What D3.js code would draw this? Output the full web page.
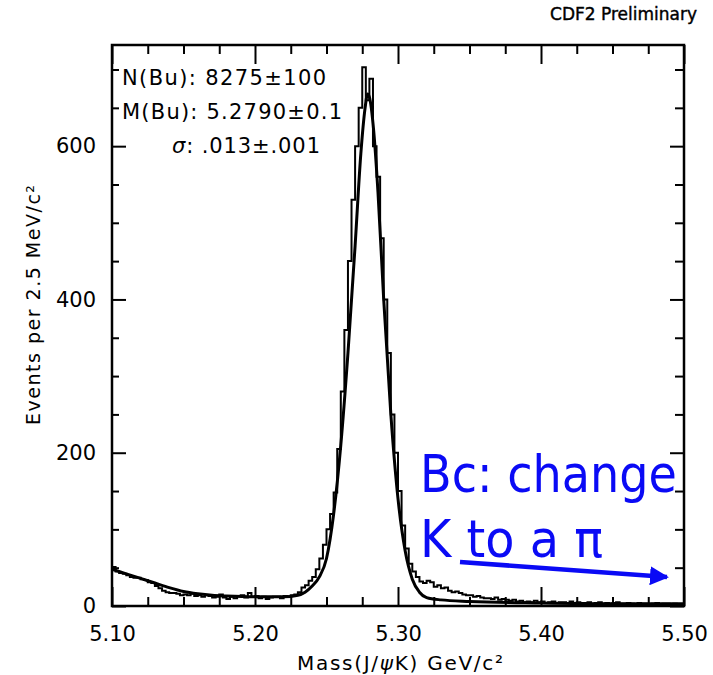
<!DOCTYPE html>
<html>
<head>
<meta charset="utf-8">
<script src="https://cdn.jsdelivr.net/npm/d3@7"></script>
<style>
  body { margin: 0; background: #fff; }
  svg { display: block; }
  text { font-family: "DejaVu Sans", "Liberation Sans", sans-serif; fill: #000; }
</style>
</head>
<body>
<svg id="chart" width="713" height="675"></svg>
<script>
// histogram: events per 2.5 MeV bin, starting at 5.10 GeV
var massStart = 5.10;
var binWidth = 0.0025;
var counts = [
  51,45,43,42,40,38,37,37,35,34,31,30,26,23,20,18,17,17,16,14,
  15,14,16,13,14,12,14,13,11,12,15,11,9,12,10,13,14,11,17,12,13,10,12,9,11,12,12,10,13,12,
  14,15,18,24,27,33,38,48,62,80,100,120,148,205,280,360,450,530,600,650,
  703,660,688,600,560,480,400,330,250,200,150,105,75,55,45,38,
  32,30,33,31,25,27,23,24,20,18,19,17,15,14,14,12,13,11,10,10,9,11,8,9,8,7,8,6,7,5,
  6,5,7,5,6,4,5,6,4,5,5,4,6,3,5,4,4,5,3,4,5,3,4,3,4,5,3,3,4,3,2,4,3,3,2,3,4,2,3,3,2,3,2,1
];

// fit curve
var fitMass = [5.100,5.110,5.120,5.130,5.140,5.150,5.160,5.170,5.180,5.200,5.220,5.230,5.235,5.240,5.245,5.250,5.255,5.260,5.265,5.270,5.274,5.277,5.2787,5.280,5.283,5.286,5.290,5.295,5.300,5.305,5.310,5.315,5.320,5.330,5.350,5.400,5.450,5.500];
var fitValue = [48,42,36,30,24,19,16,14,13,12,12,14,18,26,38,62,120,210,330,470,590,650,668,664,620,540,400,250,140,72,35,18,11,8,6,4,3,3];

var xTicks = [5.10, 5.20, 5.30, 5.40, 5.50];
var yTicks = [0, 200, 400, 600];
var fitLabels = ["N(Bu): 8275\u00b1100", "M(Bu): 5.2790\u00b10.1"];
var sigmaLabel = ": .013\u00b1.001";

var svg = d3.select("#chart");
var pL = 112, pR = 684, pT = 45, pB = 606;

var x = d3.scaleLinear().domain([5.10, 5.50]).range([pL, pR]);
var y = d3.scaleLinear().domain([0, 732]).range([pB, pT]);

// minor ticks
var xMinor = d3.range(5.10, 5.5001, 0.025).filter(function(v){ return Math.abs(v*10 - Math.round(v*10)) > 1e-6; });
var yMinor = d3.range(0, 732, 50).filter(function(v){ return v % 200 != 0; });

function styleAxis(g){
  g.select(".domain").remove();
  g.selectAll("line").attr("stroke", "#000").attr("stroke-width", 2);
  g.selectAll("text").attr("font-family", "DejaVu Sans, sans-serif").attr("font-size", 21).attr("fill", "#000");
}

// bottom
svg.append("g").attr("transform", "translate(0," + pB + ")")
  .call(d3.axisBottom(x).tickValues(xTicks).tickSize(-19).tickPadding(20).tickFormat(d3.format(".2f")))
  .call(styleAxis);
svg.append("g").attr("transform", "translate(0," + pB + ")")
  .call(d3.axisBottom(x).tickValues(xMinor).tickSize(-9).tickFormat(""))
  .call(styleAxis);
// top
svg.append("g").attr("transform", "translate(0," + pT + ")")
  .call(d3.axisTop(x).tickValues(xTicks).tickSize(-19).tickFormat(""))
  .call(styleAxis);
svg.append("g").attr("transform", "translate(0," + pT + ")")
  .call(d3.axisTop(x).tickValues(xMinor).tickSize(-9).tickFormat(""))
  .call(styleAxis);
// left
svg.append("g").attr("transform", "translate(" + pL + ",0)")
  .call(d3.axisLeft(y).tickValues(yTicks).tickSize(-14).tickPadding(16))
  .call(styleAxis);
svg.append("g").attr("transform", "translate(" + pL + ",0)")
  .call(d3.axisLeft(y).tickValues(yMinor).tickSize(-7).tickFormat(""))
  .call(styleAxis);
// right
svg.append("g").attr("transform", "translate(" + pR + ",0)")
  .call(d3.axisRight(y).tickValues(yTicks).tickSize(-14).tickFormat(""))
  .call(styleAxis);
svg.append("g").attr("transform", "translate(" + pR + ",0)")
  .call(d3.axisRight(y).tickValues(yMinor).tickSize(-9).tickFormat(""))
  .call(styleAxis);

// histogram as a step line
var histPts = counts.map(function(c, i){ return [massStart + i*binWidth, c]; });
histPts.push([massStart + counts.length*binWidth, counts[counts.length-1]]);
var stepLine = d3.line()
  .x(function(d){ return x(d[0]); })
  .y(function(d){ return y(d[1]); })
  .curve(d3.curveStepAfter);
svg.append("path").datum(histPts)
  .attr("d", stepLine)
  .attr("fill", "none").attr("stroke", "#000").attr("stroke-width", 2);

// fit
var fitLine = d3.line()
  .x(function(d, i){ return x(fitMass[i]); })
  .y(function(d){ return y(d); })
  .curve(d3.curveMonotoneX);
svg.append("path").datum(fitValue)
  .attr("d", fitLine)
  .attr("fill", "none").attr("stroke", "#000").attr("stroke-width", 3);

// frame
svg.append("rect").attr("x", pL).attr("y", pT)
  .attr("width", pR - pL).attr("height", pB - pT)
  .attr("fill", "none").attr("stroke", "#000").attr("stroke-width", 2.5);

// fit results
svg.append("text").attr("x", 122).attr("y", 85).attr("font-size", 21)
  .attr("textLength", 204).attr("lengthAdjust", "spacing").text(fitLabels[0]);
svg.append("text").attr("x", 122).attr("y", 119).attr("font-size", 21)
  .attr("textLength", 220).attr("lengthAdjust", "spacing").text(fitLabels[1]);
var sig = svg.append("text").attr("x", 172).attr("y", 153).attr("font-size", 21)
  .attr("textLength", 148).attr("lengthAdjust", "spacing");
sig.append("tspan").attr("font-style", "italic").text("\u03c3");
sig.append("tspan").text(sigmaLabel);

// axis titles
svg.append("text")
  .attr("transform", "translate(40,305) rotate(-90)")
  .attr("text-anchor", "middle").attr("font-size", 19)
  .attr("textLength", 240).attr("lengthAdjust", "spacing")
  .text("Events per 2.5 MeV/c\u00b2");
var xt = svg.append("text").attr("x", 400).attr("y", 670)
  .attr("text-anchor", "middle").attr("font-size", 20)
  .attr("textLength", 206).attr("lengthAdjust", "spacing");
xt.append("tspan").text("Mass(J/");
xt.append("tspan").attr("font-style", "italic").text("\u03c8");
xt.append("tspan").text("K) GeV/c\u00b2");

svg.append("text").attr("x", 697).attr("y", 20)
  .attr("text-anchor", "end").attr("font-size", 17)
  .attr("font-family", "Liberation Sans Narrow, DejaVu Sans Condensed, sans-serif")
  .attr("stroke", "#000").attr("stroke-width", 0.4)
  .text("CDF2 Preliminary");

// blue annotation
var blue = "#0a0af5";
svg.append("text").attr("x", 420).attr("y", 492)
  .attr("font-family", "Comic Sans MS, DejaVu Sans, sans-serif")
  .attr("font-size", 52)
  .attr("textLength", 257).attr("lengthAdjust", "spacingAndGlyphs")
  .style("fill", blue)
  .text("Bc: change");
svg.append("text").attr("x", 420).attr("y", 557)
  .attr("font-family", "Comic Sans MS, DejaVu Sans, sans-serif")
  .attr("font-size", 52)
  .attr("textLength", 183).attr("lengthAdjust", "spacingAndGlyphs")
  .style("fill", blue)
  .text("K to a \u03c0");

svg.append("defs").append("marker")
  .attr("id", "arrow").attr("viewBox", "0 0 10 10")
  .attr("refX", 9).attr("refY", 5)
  .attr("markerWidth", 4.2).attr("markerHeight", 4.2)
  .attr("orient", "auto")
  .append("path").attr("d", "M0,0 L10,5 L0,10 Z").attr("fill", blue);
svg.append("line")
  .attr("x1", 460).attr("y1", 562).attr("x2", 667).attr("y2", 577)
  .attr("stroke", blue).attr("stroke-width", 4.5)
  .attr("marker-end", "url(#arrow)");
</script>
</body>
</html>
